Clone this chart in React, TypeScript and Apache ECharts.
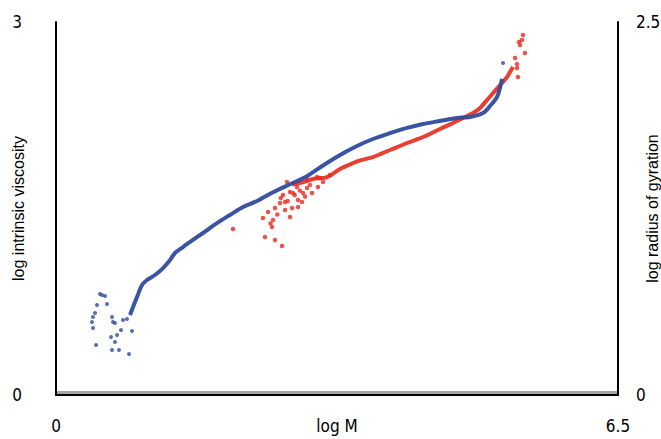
import React, { useEffect, useRef } from "react";
import * as echarts from "echarts";

// log M, log intrinsic viscosity (left axis) — main dense band
const blueCurveX = [0.856, 0.891, 0.937, 0.995, 1.052, 1.145, 1.238, 1.319, 1.376, 1.469, 1.585, 1.700, 1.862, 2.012, 2.163, 2.325, 2.510, 2.706, 2.903, 3.053, 3.285, 3.481, 3.666, 3.863, 4.060, 4.245, 4.441, 4.638, 4.788, 4.939, 5.020, 5.101, 5.135, 5.158];
const blueCurveY = [0.643, 0.708, 0.788, 0.885, 0.925, 0.965, 1.021, 1.086, 1.142, 1.190, 1.247, 1.303, 1.383, 1.448, 1.512, 1.560, 1.630, 1.695, 1.760, 1.830, 1.930, 2.003, 2.059, 2.107, 2.148, 2.180, 2.204, 2.228, 2.236, 2.268, 2.324, 2.397, 2.469, 2.542];
// scattered low-M viscosity points
const blueScatterX = [0.509, 0.532, 0.567, 0.474, 0.590, 0.451, 0.428, 0.416, 0.428, 0.648, 0.659, 0.682, 0.775, 0.821, 0.752, 0.879, 0.706, 0.636, 0.682, 0.463, 0.648, 0.729, 0.844, 5.170];
const blueScatterY = [0.812, 0.804, 0.796, 0.724, 0.732, 0.660, 0.627, 0.587, 0.539, 0.627, 0.587, 0.579, 0.603, 0.611, 0.523, 0.515, 0.483, 0.466, 0.426, 0.402, 0.362, 0.362, 0.330, 2.670];

// log M, log radius of gyration (right axis) — main band
const redCurveX = [2.730, 2.850, 2.972, 3.134, 3.285, 3.400, 3.516, 3.666, 3.863, 4.060, 4.245, 4.441, 4.592, 4.707, 4.823, 4.904, 4.996, 5.077, 5.158, 5.216, 5.251, 5.286];
const redCurveY = [1.410, 1.425, 1.448, 1.461, 1.515, 1.545, 1.572, 1.595, 1.642, 1.689, 1.729, 1.783, 1.823, 1.857, 1.890, 1.924, 1.984, 2.038, 2.091, 2.131, 2.165, 2.198];
// scattered radius of gyration points
const redScatterX = [2.047, 2.394, 2.417, 2.510, 2.498, 2.533, 2.614, 2.452, 2.533, 2.591, 2.649, 2.625, 2.672, 2.706, 2.706, 2.730, 2.741, 2.787, 2.799, 2.845, 2.857, 2.799, 2.903, 2.903, 2.938, 2.961, 3.019, 3.030, 3.053, 3.088, 3.169, 2.560, 2.600, 2.680, 2.760, 2.820, 2.880, 2.480, 2.650, 5.332, 5.343, 5.367, 5.390, 5.401, 5.355, 5.424, 5.332, 5.309];
const redScatterY = [1.113, 1.186, 1.059, 1.173, 1.126, 1.039, 0.999, 1.227, 1.253, 1.287, 1.294, 1.340, 1.428, 1.361, 1.193, 1.253, 1.354, 1.394, 1.307, 1.294, 1.354, 1.260, 1.441, 1.387, 1.408, 1.354, 1.461, 1.394, 1.454, 1.428, 1.475, 1.210, 1.320, 1.300, 1.340, 1.370, 1.330, 1.150, 1.240, 2.218, 2.131, 2.346, 2.379, 2.413, 2.366, 2.292, 2.192, 2.259];

const xTicks = { min: 0, max: 6.5 };
const leftTicks = { min: 0, max: 3 };
const rightTicks = { min: 0, max: 2.5 };

const BLUE = "#2f4b9e";
const RED = "#e8291c";
const NARROW = '"Liberation Sans Narrow", "DejaVu Sans Condensed", "Roboto Condensed", Arial, sans-serif';
const REG = '"Liberation Sans", Arial, sans-serif';

const zip = (xs: number[], ys: number[]) => xs.map((x, i) => [x, ys[i]]);

export default function App() {
  const ref = useRef<HTMLDivElement>(null);
  useEffect(() => {
    if (!ref.current) return;
    const chart = echarts.init(ref.current, null, { renderer: "svg" });
    chart.setOption({
      animation: false,
      backgroundColor: "#ffffff",
      grid: { left: 56, right: 43, top: 22, bottom: 44, containLabel: false, outerBoundsMode: "none" },
      xAxis: {
        type: "value",
        min: xTicks.min,
        max: xTicks.max,
        interval: 6.5,
        name: "log M",
        nameLocation: "middle",
        nameGap: 22,
        nameMoveOverlap: false,
        nameTextStyle: { fontFamily: NARROW, fontSize: 17, color: "#000", verticalAlign: "top" },
        axisLine: { show: true, lineStyle: { color: "#000", width: 2 } },
        axisTick: { show: false },
        splitLine: { show: false },
        axisLabel: { margin: 22, fontFamily: NARROW, fontSize: 17, color: "#000" },
      },
      yAxis: [
        {
          type: "value",
          min: leftTicks.min,
          max: leftTicks.max,
          interval: 3,
          position: "left",
          name: "log intrinsic viscosity",
          nameLocation: "middle",
          nameRotate: 90,
          nameGap: 30,
          nameMoveOverlap: false,
          nameTextStyle: { fontFamily: REG, fontSize: 16, color: "#000" },
          axisLine: { show: true, lineStyle: { color: "#000", width: 2 } },
          axisTick: { show: false },
          splitLine: { show: false },
          axisLabel: { margin: 34, fontFamily: NARROW, fontSize: 17, color: "#000" },
        },
        {
          type: "value",
          min: rightTicks.min,
          max: rightTicks.max,
          interval: 2.5,
          position: "right",
          name: "log radius of gyration",
          nameLocation: "middle",
          nameRotate: 90,
          nameGap: 26,
          nameMoveOverlap: false,
          nameTextStyle: { fontFamily: REG, fontSize: 16, color: "#000" },
          axisLine: { show: true, lineStyle: { color: "#000", width: 2 } },
          axisTick: { show: false },
          splitLine: { show: false },
          axisLabel: { margin: 18, fontFamily: NARROW, fontSize: 17, color: "#000" },
        },
      ],
      graphic: [
        { type: "rect", left: 57, top: 391, shape: { width: 560, height: 3 }, style: { fill: "#a8a4a4" }, z: 0 },
      ],
      series: [
        {
          type: "line",
          yAxisIndex: 0,
          data: zip(blueCurveX, blueCurveY),
          smooth: 0.3,
          showSymbol: false,
          lineStyle: { color: BLUE, width: 4, opacity: 0.95 },
          z: 3,
        },
        {
          type: "scatter",
          yAxisIndex: 0,
          data: zip(blueScatterX, blueScatterY),
          symbolSize: 4,
          itemStyle: { color: BLUE },
          z: 3,
        },
        {
          type: "line",
          yAxisIndex: 1,
          data: zip(redCurveX, redCurveY),
          smooth: 0.3,
          showSymbol: false,
          lineStyle: { color: RED, width: 4, opacity: 0.9 },
          z: 2,
        },
        {
          type: "scatter",
          yAxisIndex: 1,
          data: zip(redScatterX, redScatterY),
          symbolSize: 4.5,
          itemStyle: { color: RED },
          z: 2,
        },
      ],
    });
    return () => chart.dispose();
  }, []);
  return <div ref={ref} style={{ width: 661, height: 439, position: "absolute", left: 0, top: 0 }} />;
}
